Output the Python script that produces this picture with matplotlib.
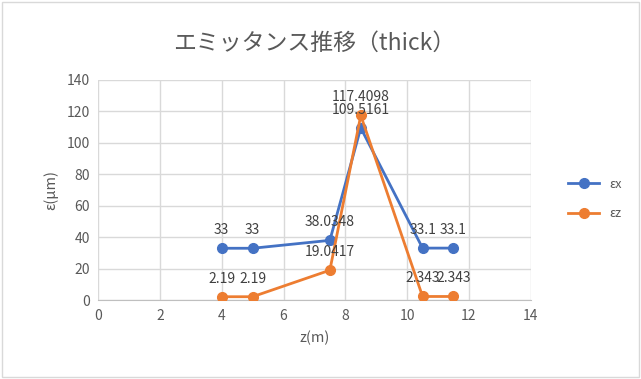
import numpy as np
import matplotlib.pyplot as plt

plt.rcParams['font.family'] = ['Noto Sans CJK JP', 'DejaVu Sans']

# Emittance along z
z = [4, 5, 7.5, 8.5, 10.5, 11.5]
eps_x = [33, 33, 38.0348, 109.5161, 33.1, 33.1]
eps_z = [2.19, 2.19, 19.0417, 117.4098, 2.343, 2.343]

blue = '#4472C4'
orange = '#ED7D31'
text_col = '#595959'

fig = plt.figure(figsize=(6.41, 3.79), dpi=100)
fig.patches.append(plt.Rectangle((0.003, 0.005), 0.994, 0.99, transform=fig.transFigure,
                                 fill=False, edgecolor='#D9D9D9', linewidth=1))
ax = fig.add_axes([0.153, 0.208, 0.675, 0.581])

ax.plot(z, eps_x, color=blue, linewidth=2, marker='o', markersize=7, label='εx', zorder=3)
ax.plot(z, eps_z, color=orange, linewidth=2, marker='o', markersize=7, label='εz', zorder=3)

for xs, ys in [(z, eps_x), (z, eps_z)]:
    for xv, yv in zip(xs, ys):
        ax.annotate(str(yv), (xv, yv), xytext=(0, 8), textcoords='offset points',
                    ha='center', va='bottom', fontsize=10, color='#404040')

ax.set_xlim(0, 14)
ax.set_ylim(0, 140)
ax.set_xticks(np.arange(0, 15, 2))
ax.set_yticks(np.arange(0, 141, 20))
ax.grid(True, color='#D9D9D9', linewidth=1)
ax.set_axisbelow(True)
for side in ['top', 'right', 'left']:
    ax.spines[side].set_visible(False)
ax.spines['bottom'].set_color('#BFBFBF')
ax.tick_params(length=0, labelsize=10, labelcolor=text_col, pad=6)

ax.set_xlabel('z(m)', fontsize=10.5, color=text_col, labelpad=6)
ax.set_ylabel('ε(μm)', fontsize=10.5, color=text_col, labelpad=6)
ax.set_title('エミッタンス推移（thick）', fontsize=16.5, color=text_col, pad=22)

ax.legend(loc='center left', bbox_to_anchor=(1.06, 0.46), frameon=False,
          fontsize=9, labelcolor=text_col, handlelength=2.5, labelspacing=1.3)

fig.savefig('out.png', dpi=100)
